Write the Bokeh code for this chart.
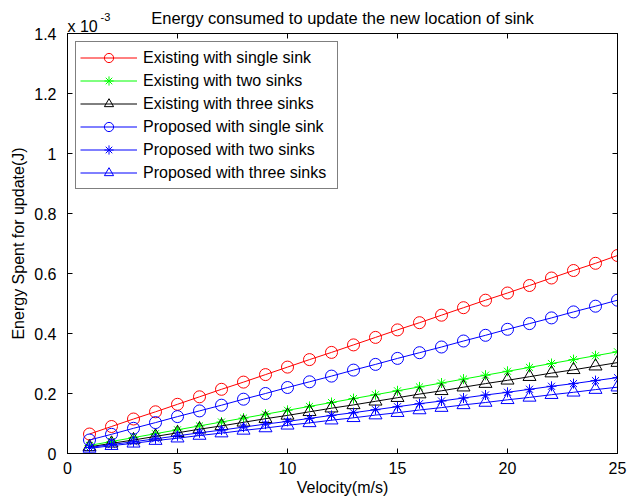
from bokeh.plotting import figure
from bokeh.models import Range1d, LinearAxis, CustomJSTickFormatter, FixedTicker
from bokeh.core.properties import value
from bokeh.embed import file_html
from bokeh.resources import INLINE

velocity = list(range(1, 26))
existing_single = [0.065, 0.090, 0.115, 0.139, 0.164, 0.189, 0.214, 0.238, 0.263, 0.288, 0.313, 0.337, 0.362,
                   0.387, 0.412, 0.436, 0.461, 0.486, 0.511, 0.535, 0.560, 0.585, 0.610, 0.634, 0.660]
existing_two = [0.027, 0.040, 0.053, 0.066, 0.079, 0.092, 0.105, 0.118, 0.131, 0.144, 0.157, 0.170, 0.183,
                0.196, 0.209, 0.222, 0.235, 0.248, 0.261, 0.274, 0.287, 0.300, 0.313, 0.326, 0.339]
existing_three = [0.022, 0.034, 0.045, 0.057, 0.069, 0.081, 0.092, 0.104, 0.116, 0.127, 0.139, 0.151, 0.162,
                  0.174, 0.186, 0.198, 0.209, 0.221, 0.233, 0.244, 0.256, 0.268, 0.279, 0.291, 0.303]
proposed_single = [0.045, 0.064, 0.084, 0.103, 0.123, 0.142, 0.161, 0.181, 0.200, 0.220, 0.239, 0.258, 0.278,
                   0.297, 0.317, 0.336, 0.355, 0.375, 0.394, 0.414, 0.433, 0.452, 0.472, 0.491, 0.511]
proposed_two = [0.020, 0.030, 0.039, 0.049, 0.059, 0.069, 0.078, 0.088, 0.098, 0.107, 0.117, 0.127, 0.136,
                0.146, 0.156, 0.166, 0.175, 0.185, 0.195, 0.204, 0.214, 0.224, 0.233, 0.243, 0.253]
proposed_three = [0.017, 0.026, 0.034, 0.043, 0.051, 0.060, 0.068, 0.077, 0.085, 0.094, 0.102, 0.111, 0.119,
                  0.128, 0.136, 0.145, 0.153, 0.162, 0.170, 0.179, 0.187, 0.196, 0.204, 0.213, 0.221]

x_ticks = [0, 5, 10, 15, 20, 25]
y_ticks = [0, 0.2, 0.4, 0.6, 0.8, 1.0, 1.2, 1.4]
scale_base = "x 10"
scale_exp = "-3"

FONT = "Liberation Sans"

p = figure(width=642, height=504, output_backend="svg", toolbar_location=None,
           x_range=Range1d(0, 25), y_range=Range1d(0, 1.4),
           min_border_left=67, min_border_right=25, min_border_top=33, min_border_bottom=51,
           title="Energy consumed to update the new location of sink")
p.title.align = "center"
p.title.text_font = FONT
p.title.text_font_size = "16.5px"
p.title.text_font_style = "normal"
p.title.text_color = "black"
p.title.standoff = 13

p.grid.visible = False
p.outline_line_color = "black"
p.outline_line_width = 1

fmt = CustomJSTickFormatter(code="var s = tick.toFixed(1); return s.replace(/\\.0$/, '');")

for ax in [p.xaxis[0], p.yaxis[0]]:
    ax.major_tick_in = 5
    ax.major_tick_out = 0
    ax.minor_tick_line_color = None
    ax.axis_line_color = "black"
    ax.major_label_text_font = FONT
    ax.major_label_text_font_size = "16px"
    ax.major_label_text_color = "black"
    ax.axis_label_text_font = FONT
    ax.axis_label_text_font_size = "16px"
    ax.axis_label_text_font_style = "normal"
    ax.axis_label_text_color = "black"

p.xaxis.ticker = FixedTicker(ticks=x_ticks)
p.yaxis.ticker = FixedTicker(ticks=y_ticks)
p.yaxis.formatter = fmt
p.xaxis.axis_label = "Velocity(m/s)"
p.yaxis.axis_label = "Energy Spent for update(J)"
p.xaxis.major_label_standoff = 8
p.yaxis.major_label_standoff = 11
p.xaxis.axis_label_standoff = 2
p.yaxis.axis_label_standoff = 4

top_ax = LinearAxis(ticker=FixedTicker(ticks=x_ticks), major_tick_in=5, major_tick_out=0,
                    minor_tick_line_color=None, major_label_text_font_size="1px",
                    major_label_text_color=None, axis_line_color="black")
right_ax = LinearAxis(ticker=FixedTicker(ticks=y_ticks), major_tick_in=5, major_tick_out=0,
                      minor_tick_line_color=None, major_label_text_font_size="1px",
                      major_label_text_color=None, axis_line_color="black")
p.add_layout(top_ax, "above")
p.add_layout(right_ax, "right")

series = [
    ("Existing with single sink", existing_single, "#ff0000", "circle", 12),
    ("Existing with two sinks", existing_two, "#00ff00", "asterisk", 10),
    ("Existing with three sinks", existing_three, "#000000", "triangle", 13),
    ("Proposed with single sink", proposed_single, "#0000ff", "circle", 12),
    ("Proposed with two sinks", proposed_two, "#0000ff", "asterisk", 10),
    ("Proposed with three sinks", proposed_three, "#0000ff", "triangle", 13),
]
for label, ys, color, marker, size in series:
    p.line(velocity, ys, line_color=color, line_width=1, legend_label=label)
    p.scatter(velocity, ys, marker=marker, size=size, line_color=color, fill_color=None,
              line_width=1, legend_label=label)

lg = p.legend[0]
lg.location = "top_left"
lg.margin = 8
lg.padding = 4
lg.spacing = 0
lg.glyph_width = 57
lg.glyph_height = 23
lg.label_height = 23
lg.label_width = 190
lg.label_standoff = 6
lg.label_text_font = FONT
lg.label_text_font_size = "16px"
lg.label_text_color = "black"
lg.border_line_color = "black"
lg.border_line_width = 1
lg.background_fill_alpha = 1

# axis multiplier "x 10^-3" drawn just above the top-left corner of the axes box
p.text(x=[x_ticks[0]], y=[y_ticks[-1]], text=[scale_base], text_font=value(FONT),
       text_font_size="16px", text_color="black", text_baseline="alphabetic",
       text_align="left", y_offset=-7, level="overlay")
p.text(x=[x_ticks[0]], y=[y_ticks[-1]], text=[scale_exp], text_font=value(FONT),
       text_font_size="11px", text_color="black", text_baseline="alphabetic",
       text_align="left", x_offset=33, y_offset=-17, level="overlay")

open("out.html", "w").write(file_html(p, INLINE))
